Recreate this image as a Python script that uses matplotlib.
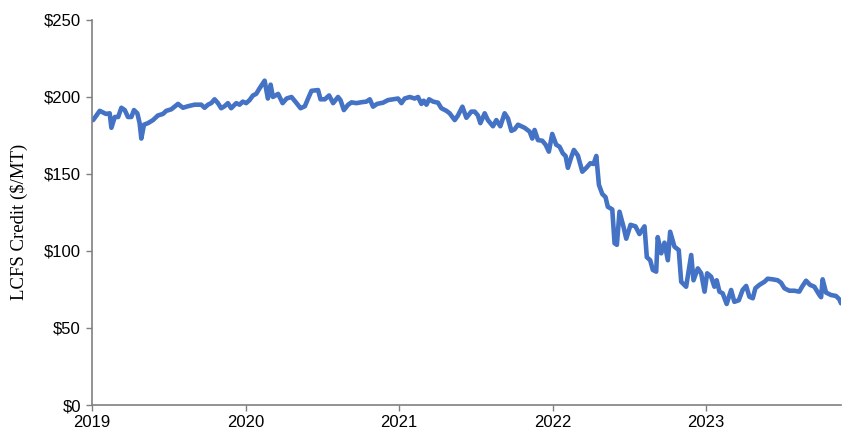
import matplotlib
matplotlib.use("Agg")
import matplotlib.pyplot as plt
from matplotlib.ticker import FuncFormatter

# Decimal-year dates and LCFS credit prices ($/MT)
years = [
    2019.007, 2019.050, 2019.091, 2019.115, 2019.126, 2019.148, 2019.170, 2019.191,
    2019.213, 2019.234, 2019.256, 2019.273, 2019.295, 2019.310, 2019.321, 2019.338,
    2019.364, 2019.397, 2019.429, 2019.462, 2019.483, 2019.516, 2019.560, 2019.592,
    2019.625, 2019.668, 2019.711, 2019.733, 2019.755, 2019.776, 2019.798, 2019.820,
    2019.841, 2019.863, 2019.885, 2019.906, 2019.939, 2019.961, 2019.982, 2020.004,
    2020.026, 2020.048, 2020.069, 2020.091, 2020.124, 2020.145, 2020.163, 2020.178,
    2020.212, 2020.241, 2020.267, 2020.299, 2020.332, 2020.358, 2020.386, 2020.407,
    2020.429, 2020.472, 2020.488, 2020.516, 2020.544, 2020.570, 2020.602, 2020.618,
    2020.640, 2020.668, 2020.690, 2020.722, 2020.755, 2020.787, 2020.809, 2020.830,
    2020.856, 2020.895, 2020.928, 2020.960, 2020.993, 2021.015, 2021.036, 2021.069,
    2021.101, 2021.123, 2021.145, 2021.160, 2021.178, 2021.195, 2021.221, 2021.253,
    2021.275, 2021.308, 2021.329, 2021.362, 2021.383, 2021.412, 2021.438, 2021.470,
    2021.492, 2021.513, 2021.529, 2021.557, 2021.578, 2021.611, 2021.633, 2021.659,
    2021.687, 2021.709, 2021.731, 2021.752, 2021.774, 2021.817, 2021.850, 2021.867,
    2021.882, 2021.904, 2021.932, 2021.954, 2021.975, 2021.997, 2022.023, 2022.045,
    2022.066, 2022.084, 2022.099, 2022.121, 2022.138, 2022.164, 2022.193, 2022.219,
    2022.245, 2022.266, 2022.284, 2022.301, 2022.323, 2022.344, 2022.359, 2022.388,
    2022.403, 2022.418, 2022.435, 2022.461, 2022.479, 2022.507, 2022.539, 2022.565,
    2022.598, 2022.613, 2022.635, 2022.652, 2022.674, 2022.684, 2022.707, 2022.728,
    2022.750, 2022.765, 2022.793, 2022.821, 2022.837, 2022.869, 2022.902, 2022.917,
    2022.945, 2022.967, 2022.989, 2023.006, 2023.032, 2023.053, 2023.068, 2023.086,
    2023.107, 2023.133, 2023.162, 2023.183, 2023.212, 2023.237, 2023.260, 2023.281,
    2023.303, 2023.320, 2023.346, 2023.379, 2023.400, 2023.433, 2023.465, 2023.487,
    2023.509, 2023.541, 2023.574, 2023.606, 2023.624, 2023.650, 2023.676, 2023.704,
    2023.737, 2023.748, 2023.758, 2023.780, 2023.813, 2023.845, 2023.867, 2023.878,
]
prices = [
    185, 191, 189, 189.4, 180, 187, 187, 193,
    191.5, 187, 187, 191.5, 189.4, 183, 173, 182,
    183, 185, 188, 189, 191, 192, 195.5, 193,
    194, 195, 195, 193, 195, 196, 198.5, 196,
    192.7, 194, 196, 192.7, 196, 195, 197, 196,
    198, 201, 202, 205.6, 210.6, 199, 208, 200,
    202, 196, 199, 200, 196, 192.7, 194, 199,
    204, 204.5, 198.5, 198.5, 201, 196, 200, 198,
    191.5, 195, 196.5, 196, 196.6, 197, 198.5, 193.7,
    195.5, 196.3, 198, 198.5, 199, 196, 199, 200,
    199, 200, 195.5, 197.6, 195, 198.5, 197, 196.3,
    192.7, 191, 189.4, 185, 188, 193.7, 186.5, 190.5,
    190.5, 188, 183, 189.4, 185, 181, 185, 181,
    189.4, 186, 178, 179, 182, 180, 177.5, 173,
    178.6, 172, 171.6, 169, 164.5, 176, 169, 167.7,
    163.4, 161.7, 154, 161, 165.6, 162, 151.5, 154,
    157, 156.5, 161.7, 143, 137, 135, 128.7, 127,
    105, 104, 125.5, 115.8, 108, 117, 116, 111,
    116, 96, 94, 87.7, 86.6, 109, 98.5, 105.4,
    94, 112.5, 102.8, 100.6, 80, 76.8, 97.4, 81,
    88.7, 85.5, 73.6, 85.5, 83.3, 76.8, 81, 73.6,
    72.5, 65.6, 74.7, 67, 68, 74.7, 77.3, 70.3,
    69.3, 75.8, 78, 80, 82, 81.6, 81, 79.4,
    75.8, 74.2, 74.2, 73.6, 76.8, 80.7, 78, 76.8,
    71.4, 70, 81.6, 73, 71.4, 70.8, 68.6, 66,
]
year_ticks = [2019, 2020, 2021, 2022, 2023]
price_ticks = [0, 50, 100, 150, 200, 250]
y_label = "LCFS Credit ($/MT)"

fig = plt.figure(figsize=(8.53, 4.42), dpi=100)
ax = fig.add_axes([0.1079, 0.0837, 0.8781, 0.8711])

ax.plot(years, prices, color="#4472C4", lw=3.3, solid_joinstyle="round",
        solid_capstyle="round")

ax.set_xlim(2019, 2023.878)
ax.set_ylim(0, 250)
ax.set_xticks(year_ticks)
ax.set_xticklabels([str(y) for y in year_ticks])
ax.set_yticks(price_ticks)
ax.yaxis.set_major_formatter(FuncFormatter(lambda v, p: f"${int(v)}"))

for side in ["top", "right"]:
    ax.spines[side].set_visible(False)
for side in ["left", "bottom"]:
    ax.spines[side].set_color("#808080")
    ax.spines[side].set_linewidth(1.2)

ax.tick_params(axis="both", direction="out", length=4, width=1.0,
               color="#808080", labelsize=12, labelcolor="black")
ax.tick_params(axis="y", pad=4)
ax.tick_params(axis="x", pad=3)
for lbl in ax.get_xticklabels() + ax.get_yticklabels():
    lbl.set_family("Liberation Sans")

ax.set_ylabel(y_label, family="Liberation Serif", fontsize=13.5)
ax.yaxis.set_label_coords(-0.085, 0.475)

fig.savefig("out.png", dpi=100)
